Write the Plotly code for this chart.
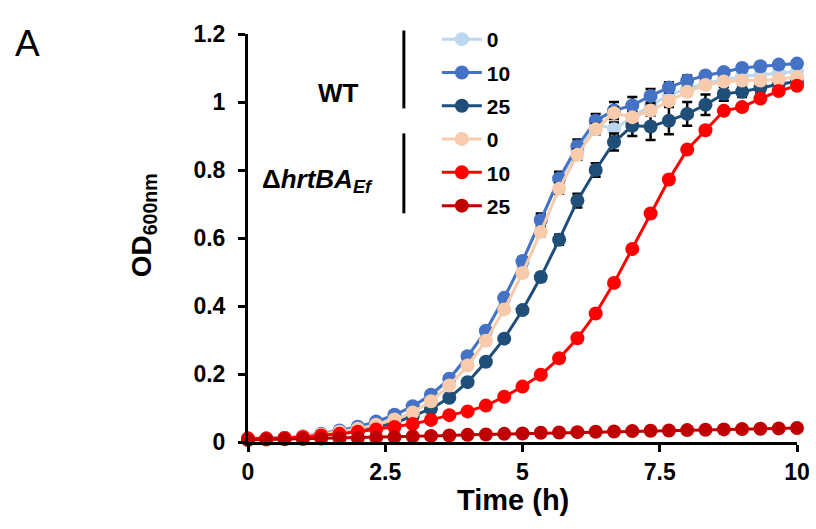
import plotly.graph_objects as go

time_h = [0, 0.333, 0.667, 1, 1.333, 1.667, 2, 2.333, 2.667, 3, 3.333, 3.667, 4, 4.333, 4.667,
          5, 5.333, 5.667, 6, 6.333, 6.667, 7, 7.333, 7.667, 8, 8.333, 8.667, 9, 9.333, 9.667, 10]

wt_0 = [0.01, 0.01, 0.012, 0.016, 0.023, 0.032, 0.043, 0.058, 0.078, 0.103, 0.136, 0.182, 0.25, 0.325,
        0.422, 0.53, 0.655, 0.772, 0.855, 0.935, 0.92, 0.955, 0.99, 1.02, 1.04, 1.055, 1.065, 1.075,
        1.08, 1.085, 1.09]
wt_10 = [0.01, 0.01, 0.012, 0.016, 0.024, 0.034, 0.045, 0.06, 0.08, 0.105, 0.139, 0.186, 0.252, 0.327,
         0.424, 0.532, 0.652, 0.775, 0.87, 0.945, 0.975, 0.99, 1.018, 1.043, 1.063, 1.078, 1.088, 1.1,
         1.105, 1.11, 1.113]
wt_25 = [0.01, 0.01, 0.012, 0.015, 0.02, 0.027, 0.034, 0.044, 0.056, 0.076, 0.098, 0.13, 0.176, 0.236,
         0.304, 0.388, 0.485, 0.595, 0.71, 0.8, 0.882, 0.93, 0.928, 0.945, 0.965, 0.992, 1.024, 1.03,
         1.042, 1.052, 1.06]
mut_0 = [0.01, 0.01, 0.012, 0.016, 0.022, 0.03, 0.039, 0.051, 0.066, 0.087, 0.12, 0.166, 0.225, 0.298,
         0.39, 0.497, 0.618, 0.745, 0.845, 0.92, 0.968, 0.955, 0.975, 1.003, 1.03, 1.05, 1.06, 1.063,
         1.063, 1.067, 1.074]
mut_10 = [0.01, 0.01, 0.012, 0.015, 0.019, 0.024, 0.03, 0.037, 0.044, 0.053, 0.065, 0.079, 0.09, 0.107,
          0.133, 0.163, 0.198, 0.246, 0.305, 0.378, 0.468, 0.568, 0.672, 0.772, 0.86, 0.917, 0.974,
          0.985, 1.01, 1.032, 1.048]
mut_25 = [0.006, 0.007, 0.008, 0.009, 0.01, 0.011, 0.012, 0.013, 0.015, 0.016, 0.018, 0.019, 0.021,
          0.022, 0.024, 0.025, 0.027, 0.028, 0.029, 0.03, 0.031, 0.032, 0.033, 0.034, 0.035, 0.036,
          0.037, 0.038, 0.039, 0.04, 0.041]

err_wt_0 = [0.003] * 14 + [0.01, 0.012, 0.015, 0.02, 0.02, 0.02, 0.02, 0.02, 0.02, 0.015, 0.015, 0.01,
                           0.01, 0.01, 0.01, 0.01, 0.01]
err_wt_10 = [0.003] * 14 + [0.01, 0.012, 0.02, 0.02, 0.02, 0.02, 0.025, 0.025, 0.02, 0.015, 0.015,
                            0.01, 0.01, 0.01, 0.01, 0.01, 0.01]
err_wt_25 = [0.003] * 14 + [0.01, 0.01, 0.012, 0.015, 0.02, 0.02, 0.025, 0.03, 0.04, 0.04, 0.035,
                            0.03, 0.02, 0.015, 0.015, 0.02, 0.015]
err_mut_0 = [0.003] * 14 + [0.01, 0.01, 0.012, 0.015, 0.015, 0.015, 0.015, 0.015, 0.015, 0.01, 0.01,
                            0.01, 0.01, 0.01, 0.01, 0.01, 0.01]

labels = ["0", "10", "25", "0", "10", "25"]
colors = ["#BDD7EE", "#4472C4", "#1F4E79", "#F8CBAD", "#FF0000", "#C00000"]
series = [wt_0, wt_10, wt_25, mut_0, mut_10, mut_25]
errors = [err_wt_0, err_wt_10, err_wt_25, err_mut_0, None, None]

FONT = "Liberation Sans, Arial, sans-serif"

# plot area in pixels
L, R, T, B = 248, 797.5, 33.5, 442
W, H = 816, 529


def px(xp):
    return (xp - L) / (R - L)


def py(yp):
    return (B - yp) / (B - T)


fig = go.Figure()
for i, (lab, col, ys, err) in enumerate(zip(labels, colors, series, errors)):
    kw = {}
    if err is not None:
        kw["error_y"] = dict(type="data", array=err, visible=True, color="black",
                             thickness=2.5, width=5)
    fig.add_trace(go.Scatter(
        x=time_h, y=ys, name=lab, mode="lines+markers",
        line=dict(color=col, width=3),
        marker=dict(color=col, size=14),
        cliponaxis=False, legendgroup=f"g{i}", **kw))

fig.update_layout(
    width=W, height=H,
    margin=dict(l=L, r=W - R, t=T, b=H - B, pad=0, autoexpand=False),
    paper_bgcolor="white", plot_bgcolor="white",
    font=dict(family=FONT, color="black"),
    showlegend=True,
    legend=dict(x=px(437), y=py(18.5), xanchor="left", yanchor="top",
                font=dict(family=FONT, size=21, color="black", weight="bold"),
                tracegroupgap=3, bgcolor="rgba(0,0,0,0)", itemwidth=40),
    xaxis=dict(range=[0, 10], tickvals=[0, 2.5, 5, 7.5, 10],
               ticktext=["0", "2.5", "5", "7.5", "10"], automargin=False,
               showline=True, linecolor="black", linewidth=3,
               ticks="outside", ticklen=7, tickwidth=3, tickcolor="black",
               showgrid=False, zeroline=False,
               tickfont=dict(family=FONT, size=23, color="black", weight="bold")),
    yaxis=dict(range=[0, 1.2], tickvals=[0, 0.2, 0.4, 0.6, 0.8, 1, 1.2],
               ticktext=["0", "0.2", "0.4", "0.6", "0.8", "1", "1.2"], automargin=False,
               showline=True, linecolor="black", linewidth=3,
               ticks="outside", ticklen=7, tickwidth=3, tickcolor="black",
               showgrid=False, zeroline=False, ticklabelstandoff=8,
               tickfont=dict(family=FONT, size=23, color="black", weight="bold")),
)

annots = [
    dict(text="A", x=px(27), y=py(43), font=dict(family=FONT, size=37, color="black")),
    dict(text="<b>WT</b>", x=px(339), y=py(93), font=dict(family=FONT, size=26, color="black")),
    dict(text="<b>\u0394<i>hrtBA</i><sub><i>Ef</i></sub></b>", x=px(318), y=py(180),
         font=dict(family=FONT, size=26, color="black")),
    dict(text="<b>Time (h)</b>", x=px(513), y=py(500), font=dict(family=FONT, size=29, color="black")),
    dict(text="<b>OD<sub>600nm</sub></b>", x=px(143), y=py(225), textangle=-90,
         font=dict(family=FONT, size=28, color="black")),
]
for a in annots:
    fig.add_annotation(xref="paper", yref="paper", showarrow=False,
                       xanchor="center", yanchor="middle", **a)

for y0, y1 in [(30, 108), (133, 213)]:
    fig.add_shape(type="line", xref="paper", yref="paper",
                  x0=px(404), x1=px(404), y0=py(y0), y1=py(y1),
                  line=dict(color="black", width=3))

fig.write_html("out.html")
